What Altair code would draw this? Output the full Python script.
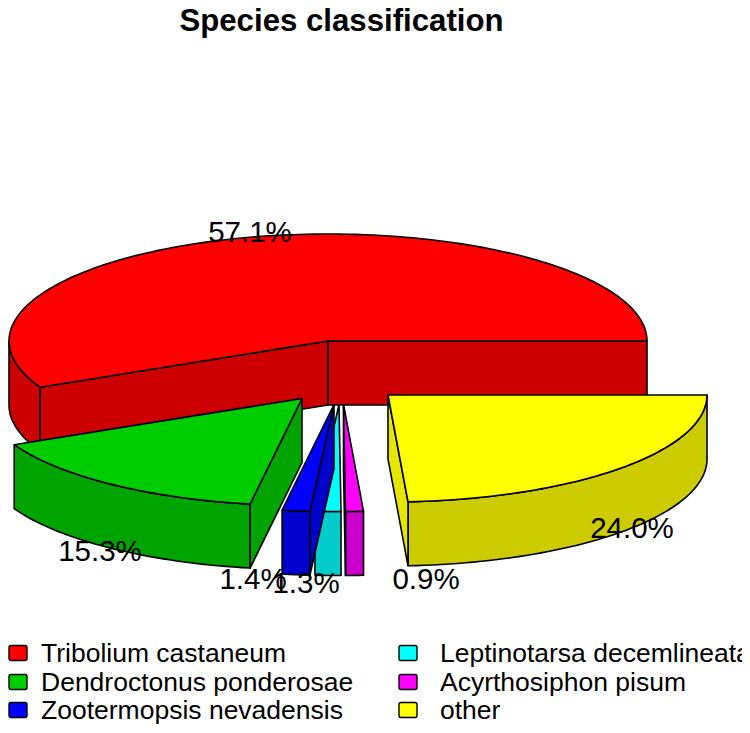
import math
import altair as alt
import pandas as pd

# --- values
species = ["Tribolium castaneum", "Dendroctonus ponderosae", "Zootermopsis nevadensis",
           "Leptinotarsa decemlineata", "Acyrthosiphon pisum", "other"]
percent = [57.1, 15.3, 1.4, 1.3, 0.9, 24.0]
top_colors = ["#FF0000", "#00CD00", "#0000FF", "#00FFFF", "#FF00FF", "#FFFF00"]
wall_colors = ["#CC0000", "#00A400", "#0000CC", "#00CCCC", "#CC00CC", "#CCCC00"]
cut_colors = ["#CC0000", "#00A400", "#0000CC", "#00CCCC", "#CC00CC", "#E6E600"]

# --- layout (in reference-picture pixels)
FONT = "Liberation Sans"
RX, RY, DEPTH = 319, 107, 64
centers = [(328, 341), (302, 398.5), (334, 404.5), (339, 404.5), (343.5, 404.5), (388, 395)]
draw_order = [0, 5, 4, 3, 2, 1]
pct_pos = [(250, 242), (100, 561), (253, 589), (306, 593), (426, 589), (632, 538)]
legend_pos = [(9, 653, 41, 662), (9, 682, 41, 691), (9, 710, 41, 719),
              (399, 653, 440, 662), (399, 682, 440, 691), (399, 710, 440, 719)]


def rim(c, deg, dy=0):
    a = math.radians(deg)
    return (c[0] + RX * math.cos(a), c[1] - RY * math.sin(a) + dy)


def arc_points(c, a0, a1, dy=0, step=1.5):
    n = max(2, int(abs(a1 - a0) / step) + 1)
    return [rim(c, a0 + (a1 - a0) * i / n, dy) for i in range(n + 1)]


rows = []
pid = 0


def add_poly(points, fill):
    global pid
    closed = list(points) + [points[0]]
    for i, (x, y) in enumerate(closed):
        rows.append({"poly": f"p{pid:03d}", "i": i, "x": x, "y": y, "fill": fill})
    pid += 1


starts = [0.0]
for v in percent:
    starts.append(starts[-1] + v * 3.6)

for k in draw_order:
    c, a0, a1 = centers[k], starts[k], starts[k + 1]
    # outer wall: only the part on the near half of the rim
    w0, w1 = max(a0, 180), min(a1, 360)
    if w1 > w0:
        add_poly(arc_points(c, w0, w1) + arc_points(c, w1, w0, DEPTH), wall_colors[k])
    # cut faces that look towards the viewer
    c_low = (c[0], c[1] + DEPTH)
    if math.cos(math.radians(a0)) > 0:
        add_poly([c, rim(c, a0), rim(c, a0, DEPTH), c_low], cut_colors[k])
    if math.cos(math.radians(a1)) < 0:
        add_poly([c, rim(c, a1), rim(c, a1, DEPTH), c_low], cut_colors[k])
    # top
    add_poly([c] + arc_points(c, a0, a1), top_colors[k])

poly_df = pd.DataFrame(rows)

x_scale = alt.Scale(domain=[8, 742], nice=False, zero=False)
y_scale = alt.Scale(domain=[725, 8], nice=False, zero=False)
X = alt.X("x:Q", scale=x_scale, axis=None)
Y = alt.Y("y:Q", scale=y_scale, axis=None)

pie = alt.Chart(poly_df).mark_line(stroke="black", strokeWidth=1.6, strokeJoin="round", clip=True).encode(
    x=X, y=Y, detail="poly:N", order="i:Q", fill=alt.Fill("fill:N", scale=None)
)

pct_df = pd.DataFrame({
    "x": [p[0] for p in pct_pos], "y": [p[1] for p in pct_pos],
    "label": [f"{v:.1f}%" for v in percent],
})
pct_text = alt.Chart(pct_df).mark_text(font=FONT, fontSize=29.5, align="center", baseline="alphabetic",
                                       color="black").encode(x=X, y=Y, text="label:N")

title_df = pd.DataFrame({"x": [341.5], "y": [31], "label": ["Species classification"]})
title_text = alt.Chart(title_df).mark_text(font=FONT, fontSize=31.2, fontWeight="bold", align="center",
                                           baseline="alphabetic", color="black").encode(x=X, y=Y, text="label:N")

swatch_df = pd.DataFrame({
    "x": [p[0] for p in legend_pos], "x2": [p[0] + 18 for p in legend_pos],
    "y": [p[1] - 7.5 for p in legend_pos], "y2": [p[1] + 7.5 for p in legend_pos],
    "fill": top_colors,
})
swatches = alt.Chart(swatch_df).mark_rect(stroke="black", strokeWidth=1.4, cornerRadius=2).encode(
    x=X, x2="x2:Q", y=Y, y2="y2:Q", fill=alt.Fill("fill:N", scale=None)
)

legend_df = pd.DataFrame({
    "x": [p[2] for p in legend_pos], "y": [p[3] for p in legend_pos], "label": species,
})
legend_text = alt.Chart(legend_df).mark_text(font=FONT, fontSize=26.5, align="left", baseline="alphabetic",
                                             color="black").encode(x=X, y=Y, text="label:N")

chart = alt.layer(pie, pct_text, title_text, swatches, legend_text).properties(
    width=734, height=717, padding=0, autosize=alt.AutoSizeParams(type="none"),
    background="white",
).configure_view(stroke=None)

chart.save("out.html", embed_options={"renderer": "svg", "actions": False})
